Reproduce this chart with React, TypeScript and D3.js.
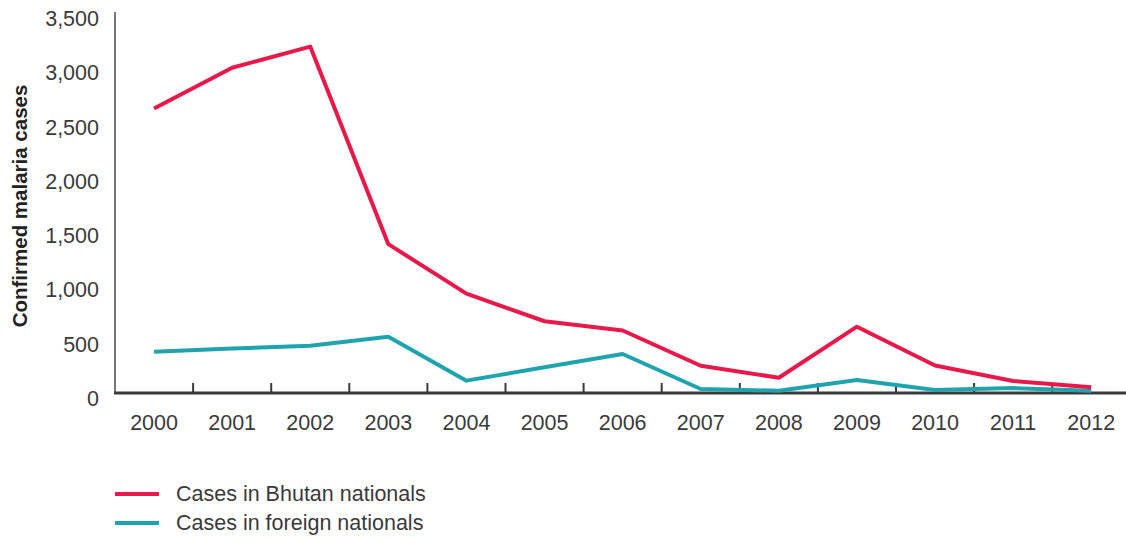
import * as d3 from "d3";
import { useEffect, useRef } from "react";

const years = ["2000", "2001", "2002", "2003", "2004", "2005", "2006", "2007", "2008", "2009", "2010", "2011", "2012"];
const bhutanCases = [2630, 3005, 3200, 1380, 925, 670, 585, 260, 150, 620, 262, 120, 62];
const foreignCases = [390, 418, 445, 528, 123, 246, 368, 46, 30, 129, 37, 55, 30];
const yTicks = [0, 500, 1000, 1500, 2000, 2500, 3000, 3500];
const legendItems = ["Cases in Bhutan nationals", "Cases in foreign nationals"];

const RED = "#e8194a";
const TEAL = "#1fa4ae";
const INK = "#3a3a3a";
const FONT = "'Liberation Sans', Arial, sans-serif";

export default function App() {
  const width = 1126;
  const height = 538;
  const axisBottomRef = useRef<SVGGElement>(null);

  const scaleX = d3.scaleBand().domain(years).range([115, 115 + 13 * 78.1]).padding(0);
  const scaleY = d3.scaleLinear().domain([0, 3500]).range([394, 14]);
  const mid = (y: string) => (scaleX(y) || 0) + scaleX.bandwidth() / 2;

  const line = d3
    .line<number>()
    .x((_, i) => mid(years[i]))
    .y((d) => scaleY(d));

  useEffect(() => {
    if (!axisBottomRef.current) return;
    const g = d3.select(axisBottomRef.current);
    g.selectAll("*").remove();
    // ticks between the years, pointing up
    g.selectAll("line.tick")
      .data(years.slice(1))
      .join("line")
      .attr("class", "tick")
      .attr("x1", (d) => scaleX(d) || 0)
      .attr("x2", (d) => scaleX(d) || 0)
      .attr("y1", 393)
      .attr("y2", 383)
      .attr("stroke", INK)
      .attr("stroke-width", 2);
    g.append("line")
      .attr("x1", 114)
      .attr("x2", width)
      .attr("y1", 393)
      .attr("y2", 393)
      .attr("stroke", INK)
      .attr("stroke-width", 3);
    g.selectAll("text")
      .data(years)
      .join("text")
      .attr("x", (d) => mid(d))
      .attr("y", 430)
      .attr("text-anchor", "middle")
      .attr("font-size", 21.5)
      .attr("fill", INK)
      .text((d) => d);
  }, []);

  return (
    <svg
      width={width}
      height={height}
      style={{ position: "absolute", left: 0, top: 0, background: "#fff" }}
      fontFamily={FONT}
    >
      {/* y axis */}
      <line x1={115} x2={115} y1={12} y2={393} stroke="#555" strokeWidth={1.6} />
      {yTicks.map((t) => (
        <text
          key={t}
          x={99}
          y={scaleY(t) + 5}
          textAnchor="end"
          dominantBaseline="central"
          fontSize={21.5}
          fill={INK}
        >
          {d3.format(",")(t)}
        </text>
      ))}
      <text
        transform={`translate(27, 206) rotate(-90)`}
        textAnchor="middle"
        fontSize={20.5}
        fontWeight="bold"
        fill="#222"
      >
        Confirmed malaria cases
      </text>

      <g ref={axisBottomRef} />

      <path d={line(foreignCases) || ""} fill="none" stroke={TEAL} strokeWidth={4} strokeLinejoin="round" />
      <path d={line(bhutanCases) || ""} fill="none" stroke={RED} strokeWidth={4} strokeLinejoin="round" />

      {legendItems.map((label, i) => (
        <g key={label} transform={`translate(0, ${494 + i * 29})`}>
          <line x1={115} x2={159} y1={0} y2={0} stroke={i === 0 ? RED : TEAL} strokeWidth={4} />
          <text x={176} y={0} dominantBaseline="central" fontSize={21.5} fill={INK}>
            {label}
          </text>
        </g>
      ))}
    </svg>
  );
}
